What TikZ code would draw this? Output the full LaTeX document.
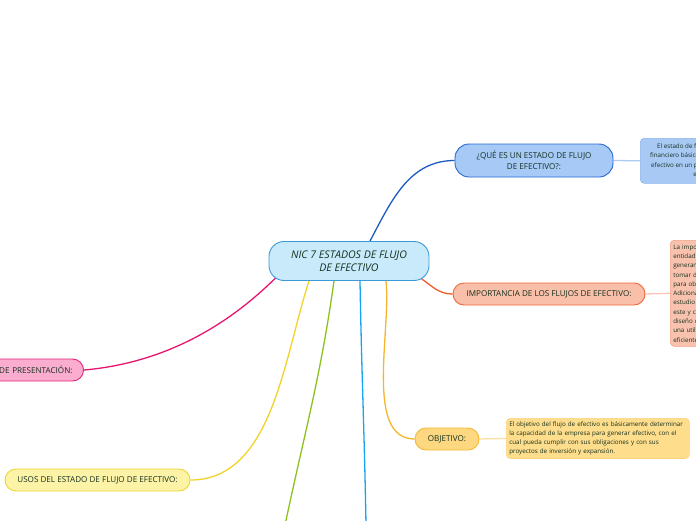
\documentclass[tikz,border=0pt]{standalone}
\usepackage{fontspec}
\setmainfont{Open Sans}
\usetikzlibrary{backgrounds}
\definecolor{ink}{HTML}{15301F}
\definecolor{cfill}{HTML}{C8EAFA}\definecolor{cline}{HTML}{3D9AD9}
\definecolor{qfill}{HTML}{A6C9F6}\definecolor{qline}{HTML}{2468D0}\definecolor{qedge}{HTML}{1C5BC2}
\definecolor{qdfill}{HTML}{A9C9F5}\definecolor{qdline}{HTML}{8AB3EF}
\definecolor{ifill}{HTML}{F9BFA8}\definecolor{iline}{HTML}{F2683D}\definecolor{iedge}{HTML}{F25A2A}
\definecolor{idfill}{HTML}{F9C2AE}\definecolor{idline}{HTML}{F49F82}
\definecolor{ofill}{HTML}{FDD880}\definecolor{oline}{HTML}{F7B731}\definecolor{oedge}{HTML}{F6B52A}
\definecolor{odfill}{HTML}{FEDD8C}\definecolor{odline}{HTML}{FBD379}
\definecolor{pfill}{HTML}{FBADD0}\definecolor{pline}{HTML}{E3247A}\definecolor{pedge}{HTML}{E8156E}
\definecolor{ufill}{HTML}{FDF3A6}\definecolor{uline}{HTML}{EFD531}\definecolor{uedge}{HTML}{F3D22A}
\definecolor{gedge}{HTML}{8CC21C}\definecolor{lbedge}{HTML}{18A4EC}
\begin{document}
\begin{tikzpicture}[x=1pt,y=-1pt,
  topic/.style={draw,line width=0.9pt,rounded corners=11pt,text=ink,font=\fontsize{8.1}{10.5}\selectfont,align=center,inner xsep=6pt,inner ysep=0pt,minimum height=22pt},
  note/.style={draw,line width=0.6pt,rounded corners=4pt,text=ink,font=\fontsize{6.25}{9.3}\selectfont,inner sep=3pt},
  branch/.style={line width=1.3pt},
  twig/.style={line width=1.3pt}]
\useasboundingbox (0,0) rectangle (696,520);
\clip (0,0) rectangle (696,520);
% central topic
\node[draw=cline,fill=cfill,line width=0.9pt,rounded corners=15pt,text=ink,align=center,
  font=\fontsize{10.6}{13}\selectfont\itshape,minimum width=160pt,minimum height=39pt] (nic) at (349,261)
  {NIC 7 ESTADOS DE FLUJO\\DE EFECTIVO};
% main topics
\node[topic,draw=qline,fill=qfill,minimum width=158pt,minimum height=33pt,rounded corners=14pt] (que) at (534,160.5)
  {¿QUÉ ES UN ESTADO DE FLUJO\\DE EFECTIVO?:};
\node[topic,draw=iline,fill=ifill,minimum width=192pt] (imp) at (549,294) {IMPORTANCIA DE LOS FLUJOS DE EFECTIVO:};
\node[topic,draw=oline,fill=ofill,minimum width=64pt] (obj) at (447,439) {OBJETIVO:};
\node[topic,draw=pline,fill=pfill,text width=112pt,align=right,anchor=east,inner xsep=11pt] (pres) at (84,370) {DE PRESENTACIÓN:};
\node[topic,draw=uline,fill=ufill,minimum width=185pt] (usos) at (97.5,480) {USOS DEL ESTADO DE FLUJO DE EFECTIVO:};
\coordinate (verde) at (285,525);
\coordinate (celeste) at (366,525);
% notes
\node[note,draw=qdline,fill=qdfill,align=center,minimum width=180pt,minimum height=45pt,anchor=north west] (qnote) at (640,138)
  {El estado de flujo de efectivo es el estado contable\\financiero básico que muestra las entradas y salidas de\\efectivo en un período determinado, así como el saldo\\en un periodo de tiempo.};
\node[note,draw=idline,fill=idfill,align=left,text width=150pt,minimum height=106pt,anchor=north west] (inote) at (670,240)
  {La importancia del flujo de efectivo para una\\entidad radica en que permite conocer si se\\generan los recursos necesarios para\\tomar decisiones y planear las fuentes\\para obtener financiamiento.\\Adicionalmente, permite realizar un\\estudio del efectivo, las variaciones de\\este y con base en esa información el\\diseño de estrategias para conseguir\\una utilización del efectivo más\\eficiente.};
\node[note,draw=odline,fill=odfill,align=left,text width=177pt,anchor=north west] (onote) at (506,418)
  {El objetivo del flujo de efectivo es básicamente determinar\\la capacidad de la empresa para generar efectivo, con el\\cual pueda cumplir con sus obligaciones y con sus\\proyectos de inversión y expansión.};
% connectors
\begin{scope}[on background layer]
\draw[branch,qedge] (nic.north)++(21,0) to[out=62,in=180] (que.west);
\draw[branch,iedge] (nic.south east)++(-9,-3) to[out=-35,in=180] (imp.west);
\draw[branch,oedge] (nic.south)++(37,0) to[out=-84,in=180,looseness=0.8] (obj.west);
\draw[branch,pedge] (nic.south west)++(8,-4) to[out=-135,in=5,looseness=0.9] (pres.east);
\draw[branch,uedge] (nic.south)++(-40,0) to[out=-108,in=0,looseness=0.9] (usos.east);
\draw[branch,gedge] (nic.south)++(-15,0) to[out=-98,in=78] (verde);
\draw[branch,lbedge] (nic.south)++(11,0) to[out=-89,in=91] (celeste);
\draw[twig,qdline!70] (que.east) -- (qnote.west);
\draw[twig,idline!60] (imp.east) -- (inote.west);
\draw[twig,odline!70] (obj.east) -- (onote.west);
\end{scope}
\end{tikzpicture}
\end{document}
